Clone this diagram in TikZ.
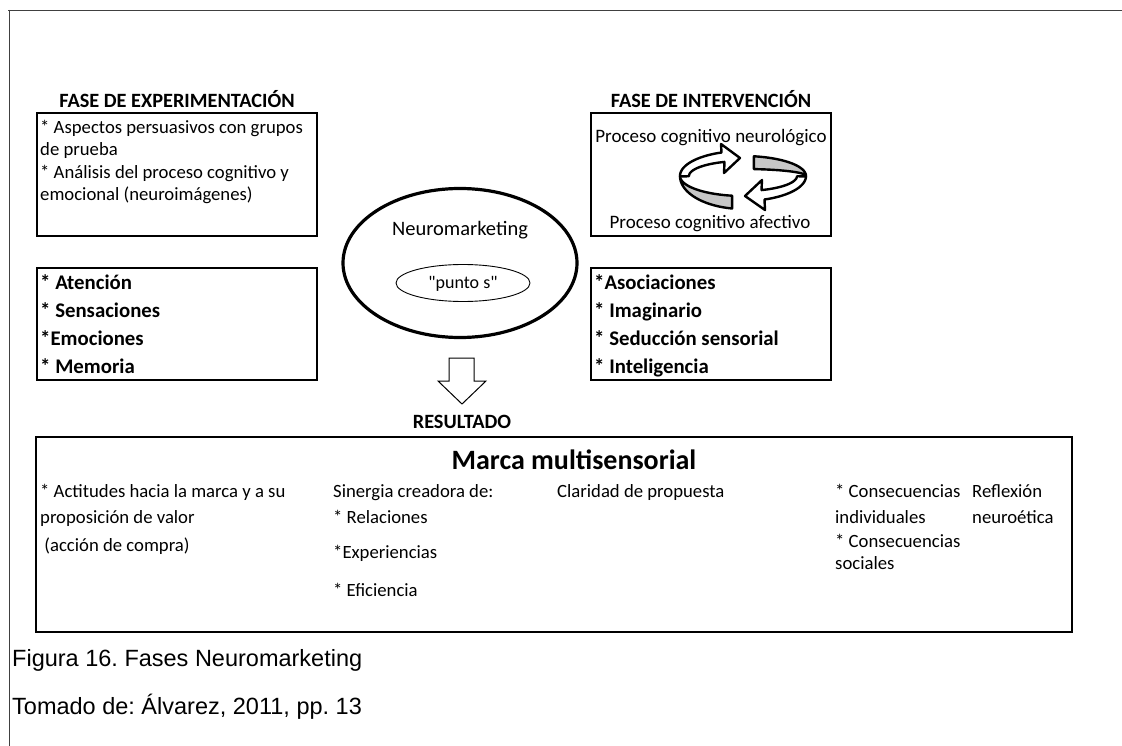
\documentclass[tikz,border=0pt]{standalone}
\usepackage{fontspec}
\setmainfont{Carlito}
\newfontfamily\nolig{Carlito}
\newfontfamily\capfont{Liberation Sans}
\usetikzlibrary{shapes.geometric}
\begin{document}
\frenchspacing
\begin{tikzpicture}[x=1pt,y=-1pt,
  frameline/.style={draw=black!75, line width=0.9pt},
  box/.style={draw=black, line width=2.2pt, inner sep=0pt},
  txt/.style={anchor=mid west, inner sep=0pt, yshift=-3pt, font=\fontsize{18.7}{22}\selectfont},
  btxt/.style={anchor=mid west, inner sep=0pt, yshift=-4pt, font=\fontsize{20.8}{24}\selectfont\bfseries},
  head/.style={anchor=mid, inner sep=0pt, yshift=-4pt, font=\fontsize{20.3}{24}\selectfont\bfseries},
  ctxt/.style={anchor=mid, inner sep=0pt, yshift=-3pt, font=\fontsize{19}{22}\selectfont},
  captxt/.style={anchor=mid west, inner sep=0pt, yshift=-4pt, font=\capfont\fontsize{23.5}{28}\selectfont},
  ringgray/.style={fill=black!22, draw=black, line width=2.4pt, line join=round},
  ringwhite/.style={fill=white, draw=black, line width=2.4pt, line join=round}]
\useasboundingbox (0,0) rectangle (1122,746);
\fill[white] (0,0) rectangle (1122,746);

% outer frame
\draw[frameline] (8,10) -- (1122,10);
\draw[frameline] (9,10) -- (9,746);

% headings
\node[head] (hexp) at (177,101) {FASE DE EXPERIMENTACIÓN};
\node[head] (hint) at (711,101) {FASE DE INTERVENCIÓN};

% left top box
\node[box, minimum width=280pt, minimum height=123pt] (expbox) at (177,174.5) {};
\node[txt] (e1) at (40,128) {* Aspectos persuasivos con grupos};
\node[txt] (e2) at (40,150) {de prueba};
\node[txt] (e3) at (40,173) {* Análisis del proceso cognitivo y};
\node[txt] (e4) at (40,195) {emocional (neuroimágenes)};

% right top box
\node[box, minimum width=240pt, minimum height=123pt] (intbox) at (711,174.5) {};
\node[ctxt] (pn) at (711,137) {Proceso cognitivo neurológico};
\node[ctxt] (pa) at (710,223) {Proceso cognitivo afectivo};

% circular arrows
\filldraw[ringgray] plot[domain=100:180,samples=30] ({743+63*cos(\x)},{176+20*sin(\x)})
  -- plot[domain=180:100,samples=30] ({743+63*cos(\x)},{176+33*sin(\x)}) -- cycle;
\filldraw[ringwhite] (721.5,152.5) -- (721,144) -- (740,158) -- (724,173) -- (724.5,161.9)
  -- plot[domain=250:179,samples=30] ({743+54*cos(\x)},{176+15*sin(\x)})
  -- plot[domain=179:250,samples=30] ({743+63*cos(\x)},{176+25*sin(\x)}) -- cycle;
\filldraw[ringgray] plot[domain=280:360,samples=30] ({743+63*cos(\x)},{176+20*sin(\x)})
  -- plot[domain=360:280,samples=30] ({743+63*cos(\x)},{176+7*sin(\x)}) -- cycle;
\filldraw[ringwhite] (764.5,199.5) -- (765,210) -- (745,196) -- (762,180) -- (761.5,190.1)
  -- plot[domain=70:1,samples=30] ({743+54*cos(\x)},{176+15*sin(\x)})
  -- plot[domain=1:70,samples=30] ({743+63*cos(\x)},{176+25*sin(\x)}) -- cycle;

% left list box
\node[box, minimum width=280pt, minimum height=112pt] (leftlist) at (177,324) {};
\node[btxt] (l1) at (40,283) {* Atención};
\node[btxt] (l2) at (40,311) {* Sensaciones};
\node[btxt] (l3) at (40,339) {*Emociones};
\node[btxt] (l4) at (40,367) {* Memoria};

% right list box
\node[box, minimum width=240pt, minimum height=112pt] (rightlist) at (711,324) {};
\node[btxt] (r1) at (594,283) {*Asociaciones};
\node[btxt] (r2) at (594,311) {* Imaginario};
\node[btxt] (r3) at (594,339) {* Seducción sensorial};
\node[btxt] (r4) at (594,367) {* Inteligencia};

% central ellipse
\node[draw, ellipse, line width=3.2pt, minimum width=234pt, minimum height=149pt, inner sep=0pt] (neuro) at (460,263) {};
\node[anchor=mid, inner sep=0pt, yshift=-3pt, font=\fontsize{20.5}{24}\selectfont] (neurot) at (460,230) {Neuromarketing};
\node[draw, ellipse, line width=0.9pt, minimum width=134pt, minimum height=37pt, inner sep=0pt] (punto) at (463,283) {};
\node[anchor=mid, inner sep=0pt, yshift=-3pt, font=\nolig\fontsize{18}{20}\selectfont] (puntot) at (463,283) {"punto s"};

% block arrow
\draw[line width=1pt, line join=miter, fill=white] (449,358) -- (474,358) -- (474,381) -- (486,381)
  -- (462,404) -- (438,381) -- (449,381) -- cycle;
\node[head] (res) at (462,422) {RESULTADO};

% bottom box
\node[box, line width=2.8pt, minimum width=1036pt, minimum height=195pt] (bot) at (554,534.5) {};
\node[anchor=mid, inner sep=0pt, yshift=-4pt, font=\fontsize{28}{32}\selectfont\bfseries] (marca) at (574,463) {Marca multisensorial};

\node[txt] (c1a) at (40,492) {* Actitudes hacia la marca y a su};
\node[txt] (c1b) at (40,518) {proposición de valor};
\node[txt] (c1c) at (40,546) {\ (acción de compra)};

\node[txt] (c2a) at (333,492) {Sinergia creadora de:};
\node[txt] (c2b) at (333,518) {* Relaciones};
\node[txt] (c2c) at (333,553) {*Experiencias};
\node[txt] (c2d) at (333,591) {* Eficiencia};

\node[txt] (c3a) at (557,492) {Claridad de propuesta};

\node[txt] (c4a) at (835,492) {* Consecuencias};
\node[txt] (c4b) at (835,518) {individuales};
\node[txt] (c4c) at (835,542) {* Consecuencias};
\node[txt] (c4d) at (835,564) {sociales};

\node[txt] (c5a) at (972,492) {Reflexión};
\node[txt] (c5b) at (972,518) {neuroética};

% caption
\node[captxt] (cap1) at (12,660) {Figura 16. Fases Neuromarketing};
\node[captxt] (cap2) at (12,708) {Tomado de: Álvarez, 2011, pp. 13};
\end{tikzpicture}
\end{document}
